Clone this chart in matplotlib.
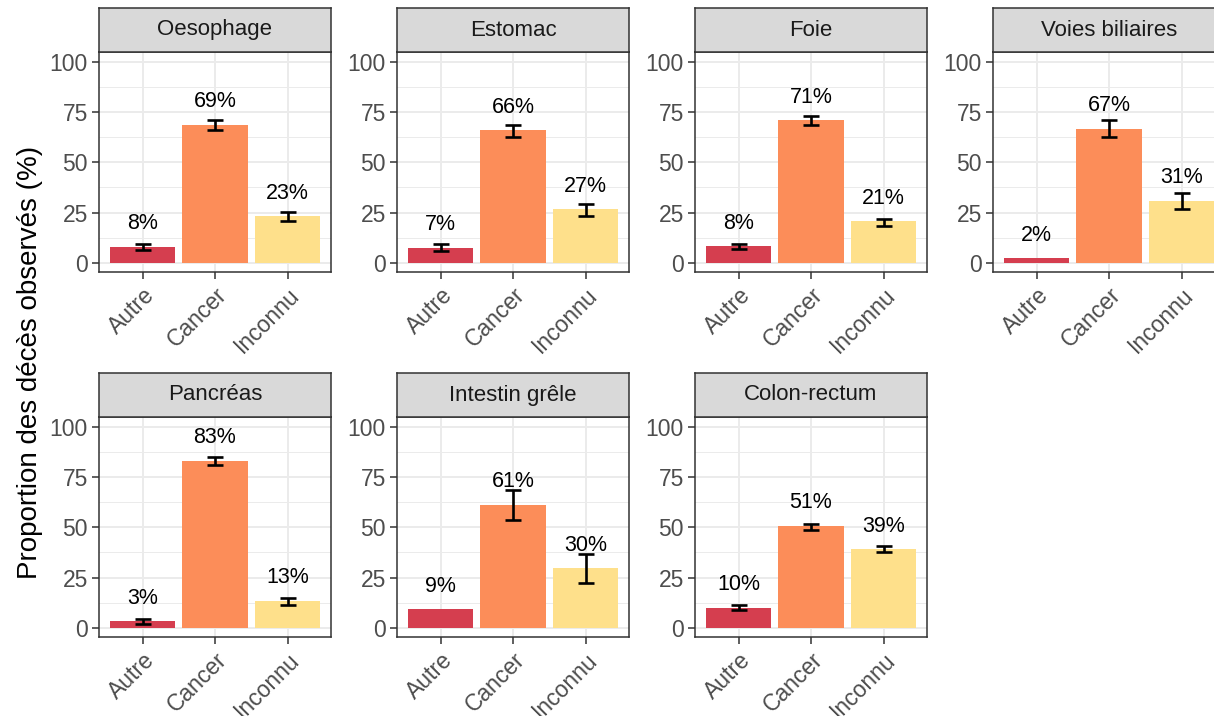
import matplotlib.pyplot as plt
import numpy as np

plt.rcParams['font.family'] = ['Liberation Sans', 'DejaVu Sans']

# Data
categories = ["Autre", "Cancer", "Inconnu"]
sites = ["Oesophage", "Estomac", "Foie", "Voies biliaires",
         "Pancréas", "Intestin grêle", "Colon-rectum"]
props = [[7.8, 68.6, 23.2],
         [7.3, 66.0, 26.6],
         [8.2, 71.0, 20.6],
         [2.2, 66.8, 30.8],
         [3.2, 83.2, 13.4],
         [9.1, 61.3, 29.6],
         [10.0, 50.6, 39.0]]
lower = [[6.3, 66.0, 20.8],
         [5.7, 62.8, 23.5],
         [6.7, 68.8, 18.3],
         [np.nan, 62.8, 26.7],
         [2.0, 81.2, 11.5],
         [np.nan, 53.8, 22.4],
         [9.0, 48.8, 37.5]]
upper = [[9.3, 71.3, 25.3],
         [9.2, 68.8, 29.0],
         [9.5, 73.0, 22.0],
         [np.nan, 71.0, 34.8],
         [4.3, 84.8, 15.0],
         [np.nan, 68.8, 36.5],
         [11.3, 51.7, 40.9]]
colors = ["#d53e4f", "#fc8d59", "#fee08b"]

W, H = 1214, 716
fig = plt.figure(figsize=(W / 100, H / 100), dpi=100)

def rect(x0, y0, x1, y1):
    return [x0 / W, 1 - y1 / H, (x1 - x0) / W, (y1 - y0) / H]

grey20 = "#333333"
lefts = [99, 397, 695, 993]
rows = [(8, 52, 272), (373, 417, 637)]

for k, site in enumerate(sites):
    r, c = divmod(k, 4)
    x0 = lefts[c]
    x1 = x0 + 232
    st, pt, pb = rows[r]

    ax = fig.add_axes(rect(x0, pt, x1, pb))
    x = np.arange(len(categories))
    vals = np.array(props[k])
    lo = np.array(lower[k])
    hi = np.array(upper[k])

    ax.bar(x, vals, width=0.9, color=colors, zorder=2)
    ok = ~np.isnan(lo)
    ax.errorbar(x[ok], vals[ok], yerr=[vals[ok] - lo[ok], hi[ok] - vals[ok]],
                fmt="none", ecolor="black", elinewidth=1.9, capsize=6,
                capthick=1.9, zorder=3)
    for xi, v in zip(x, vals):
        ax.text(xi, v + 11.5, f"{round(v):.0f}%", ha="center", va="center",
                fontsize=15.5, color="black", zorder=4)

    ax.set_xlim(-0.6, 2.6)
    ax.set_ylim(-4.6, 104.9)
    ax.set_yticks([0, 25, 50, 75, 100])
    ax.set_yticks([12.5, 37.5, 62.5, 87.5], minor=True)
    ax.set_xticks(x)
    ax.set_xticklabels(categories, rotation=45, ha="right",
                       rotation_mode="anchor")
    ax.tick_params(axis="both", which="major", labelsize=16.5,
                   labelcolor="#4d4d4d", color=grey20, length=5, width=1.1,
                   pad=3)
    ax.tick_params(axis="y", which="minor", length=0)
    ax.grid(True, which="major", color="#ebebeb", linewidth=1.4, zorder=0)
    ax.grid(True, which="minor", axis="y", color="#ebebeb", linewidth=0.7,
            zorder=0)
    ax.set_axisbelow(True)
    for sp in ax.spines.values():
        sp.set_color(grey20)
        sp.set_linewidth(1.1)

    sax = fig.add_axes(rect(x0, st, x1, pt))
    sax.set_facecolor("#d9d9d9")
    sax.set_xticks([])
    sax.set_yticks([])
    for sp in sax.spines.values():
        sp.set_color(grey20)
        sp.set_linewidth(1.1)
    sax.text(0.5, 0.5, site, ha="center", va="center", fontsize=16,
             color="#1a1a1a", transform=sax.transAxes)

fig.text(30 / W, 1 - 362 / H, "Proportion des décès observés (%)",
         rotation=90, ha="center", va="center", fontsize=20)

fig.savefig("out.png", dpi=100)
